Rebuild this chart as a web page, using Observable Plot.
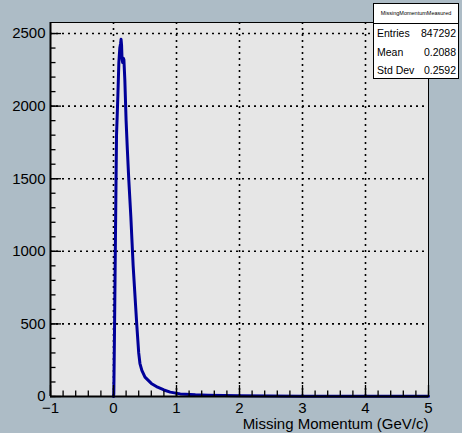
<!DOCTYPE html>
<html>
<head>
<meta charset="utf-8">
<script src="https://cdn.jsdelivr.net/npm/d3@7"></script>
<script src="https://cdn.jsdelivr.net/npm/@observablehq/plot@0.6"></script>
<style>
  html, body { margin: 0; padding: 0; background: #adbcc6; }
  #wrap { position: relative; width: 462px; height: 433px; overflow: hidden; background: #adbcc6; font-family: "Liberation Sans", Arial, sans-serif; }
  #stats { position: absolute; left: 373px; top: 3px; width: 86px; height: 76px; background: #fff; border: 1px solid #000; box-sizing: border-box; font-size: 10.5px; color: #000; }
  #stats .t { height: 19px; border-bottom: 1px solid #000; font-size: 5.5px; text-align: center; line-height: 19px; }
  #stats .r { display: flex; justify-content: space-between; padding: 0 2px 0 3px; height: 18.5px; line-height: 18.5px; }
</style>
</head>
<body>
<div id="wrap"></div>
<script>
// ---- data ----
const momentum = [0.0, 0.005, 0.016, 0.032, 0.048, 0.06, 0.07, 0.085, 0.1, 0.112, 0.12, 0.128, 0.135, 0.145, 0.155, 0.165, 0.18, 0.2, 0.22, 0.243, 0.275, 0.312, 0.35, 0.37, 0.4, 0.42, 0.45, 0.5, 0.6, 0.7, 0.8, 0.9, 1.06, 1.3, 1.5, 2.0, 2.5, 3.0, 3.5, 4.0, 4.5, 5.0];
const counts   = [0, 20, 455, 1143, 1800, 1950, 2080, 2300, 2400, 2430, 2460, 2420, 2330, 2300, 2330, 2320, 2180, 1900, 1700, 1490, 1240, 900, 630, 490, 300, 227, 180, 133, 90, 64, 45, 30, 18, 12, 9, 5, 3, 2, 2, 1, 1, 1];
const xTickValues = [-1, 0, 1, 2, 3, 4, 5];
const yTickValues = [0, 500, 1000, 1500, 2000, 2500];
const xGridValues = [0, 1, 2, 3, 4];
const yGridValues = [500, 1000, 1500, 2000, 2500];
const statName = "MissingMomentumMeasured";
const statLabels = ["Entries", "Mean", "Std Dev"];
const statValues = ["847292", "0.2088", "0.2592"];
const xLabel = "Missing Momentum (GeV/c)";

const hist = momentum.map((x, i) => ({x, y: counts[i]}));
const xMinor = d3.range(-1, 5.0001, 0.2).map(v => +v.toFixed(2));
const yMinor = d3.range(0, 2576, 100);

const W = 462, H = 433, ML = 50, MR = 34, MT = 22, MB = 37;
const fw = W - ML - MR, fh = H - MT - MB;
const fmt = d => d < 0 ? "\u2212" + Math.abs(d) : String(d);

const chart = Plot.plot({
  width: W, height: H,
  marginLeft: ML, marginRight: MR, marginTop: MT, marginBottom: MB,
  style: {background: "#adbcc6", fontFamily: "'Liberation Sans', Arial, sans-serif", color: "#000", overflow: "visible"},
  x: {domain: [-1, 5]},
  y: {domain: [0, 2576]},
  marks: [
    Plot.frame({fill: "#e6e6e6", stroke: null}),
    Plot.ruleX(xGridValues, {x: d => d, stroke: "#000", strokeWidth: 1.6, strokeDasharray: "2,4"}),
    Plot.ruleY(yGridValues, {y: d => d, stroke: "#000", strokeWidth: 1.6, strokeDasharray: "2,4"}),
    Plot.line(hist, {x: "x", y: "y", stroke: "#000099", strokeWidth: 3, strokeLinejoin: "round"}),
    Plot.frame({stroke: "#000", strokeWidth: 1}),
    Plot.ruleX([-1], {x: d => d, stroke: "#000", strokeWidth: 2}),
    Plot.ruleY([0], {y: d => d, stroke: "#000", strokeWidth: 2}),
    Plot.tickX(xTickValues, {x: d => d, stroke: "#000", strokeWidth: 1.3, insetTop: fh - 11}),
    Plot.tickX(xMinor, {x: d => d, stroke: "#000", strokeWidth: 1.3, insetTop: fh - 5.5}),
    Plot.tickY(yTickValues, {y: d => d, stroke: "#000", strokeWidth: 1.3, insetRight: fw - 11}),
    Plot.tickY(yMinor, {y: d => d, stroke: "#000", strokeWidth: 1.3, insetRight: fw - 5.5}),
    Plot.axisX(xTickValues, {tickSize: 0, tickPadding: 6, fontSize: 15, tickFormat: fmt, label: null}),
    Plot.axisY(yTickValues, {tickSize: 0, tickPadding: 5, fontSize: 15, tickFormat: fmt, label: null}),
    Plot.text([xLabel], {frameAnchor: "bottom-right", text: d => d, dy: 28, fontSize: 15, textAnchor: "end", lineAnchor: "middle", fill: "#000"})
  ]
});

const wrap = document.getElementById("wrap");
wrap.appendChild(chart);
const stats = document.createElement("div");
stats.id = "stats";
let html = `<div class="t">${statName}</div>`;
statLabels.forEach((l, i) => { html += `<div class="r"><span>${l}</span><span>${statValues[i]}</span></div>`; });
stats.innerHTML = html;
wrap.appendChild(stats);
</script>
</body>
</html>
